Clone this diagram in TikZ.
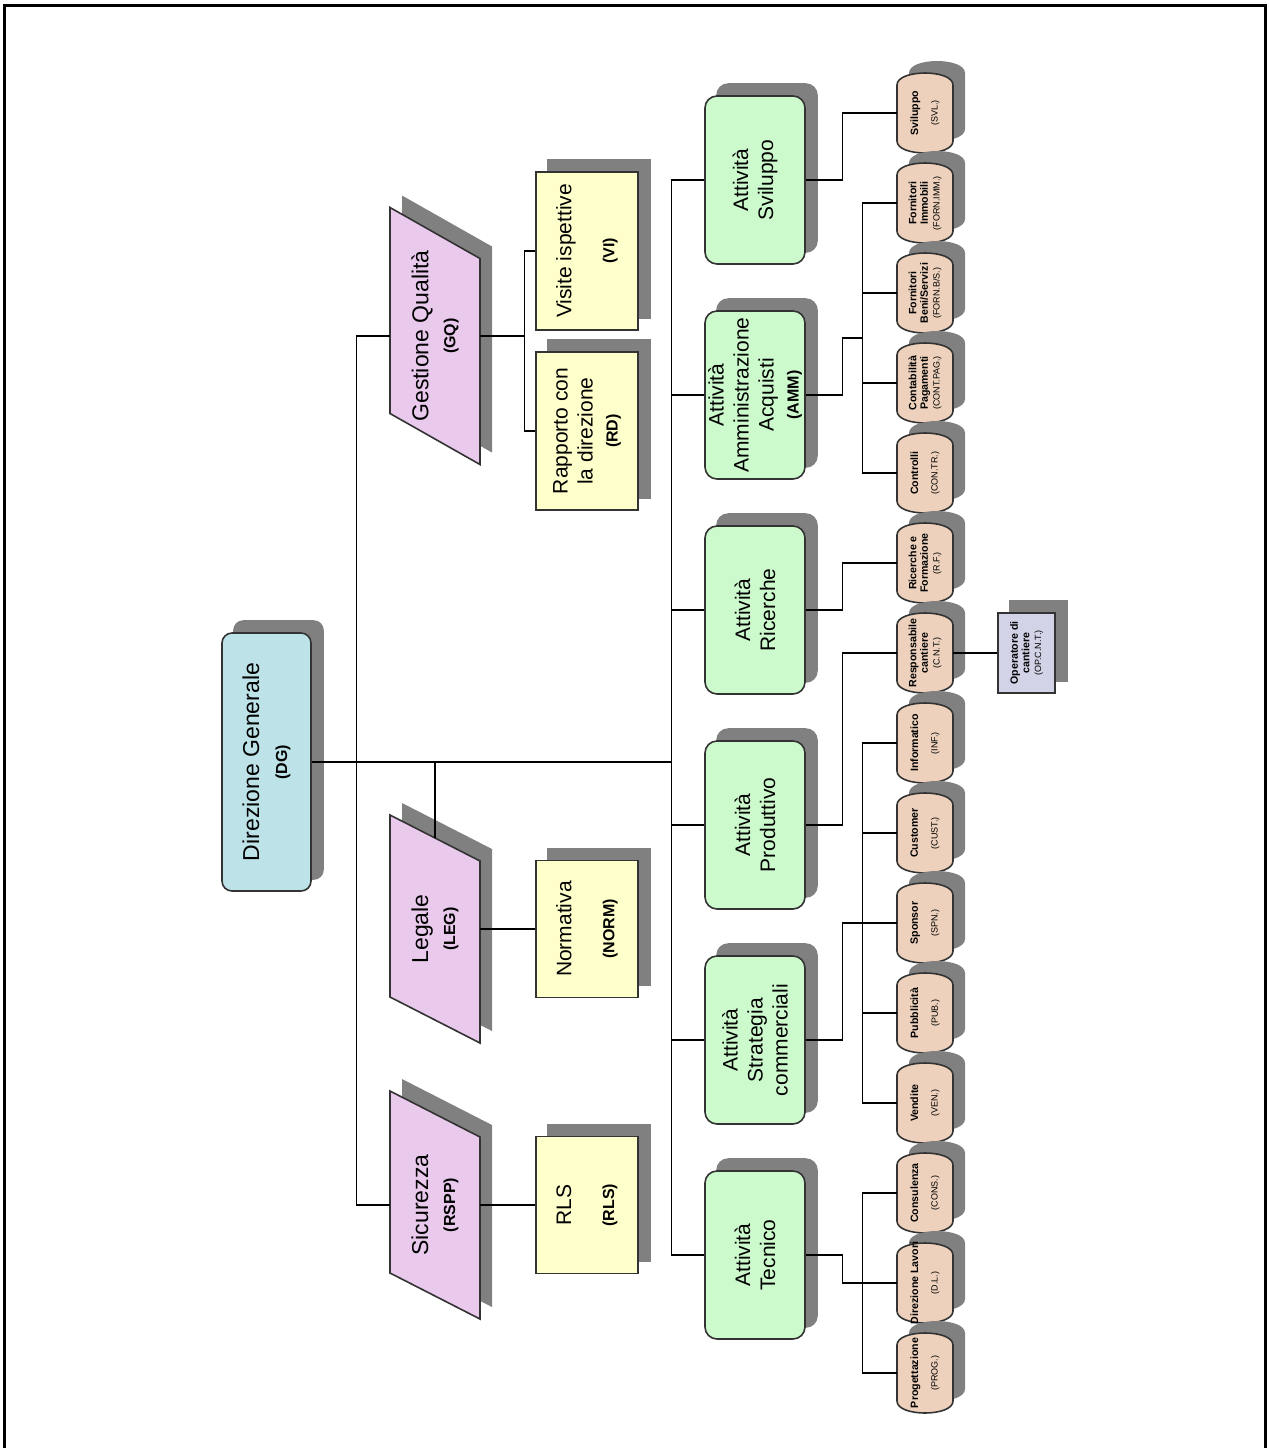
\documentclass[tikz,border=0pt]{standalone}
\usepackage{fontspec}
\setmainfont{Liberation Sans}
\usepackage{tikz}
\usetikzlibrary{calc,backgrounds}
\definecolor{dgblue}{HTML}{BDE3E8}
\definecolor{qpink}{HTML}{E9C9EC}
\definecolor{uyellow}{HTML}{FFFFCC}
\definecolor{agreen}{HTML}{CCFACC}
\definecolor{ctan}{HTML}{EDD1BC}
\definecolor{opgray}{HTML}{D3D3E8}
\definecolor{shade}{HTML}{808080}
\definecolor{edge}{HTML}{333333}
\newcommand{\ab}[1]{{\fontsize{8}{10}\selectfont\bfseries #1}}
\newcommand{\cd}[1]{{\mdseries\fontsize{4.5}{5.5}\selectfont #1}}
\tikzset{
  pics/canshape/.style={code={
    \path[pic actions] (-28,-28) .. controls (-28,-44) and (28,-44) .. (28,-28)
      -- (28,28) .. controls (28,44) and (-28,44) .. (-28,28) -- cycle;}},
  pics/pgram/.style 2 args={code={
    \path[pic actions] (-45,-#1-#2) -- (45,-#1+#2) -- (45,#1+#2) -- (-45,#1-#2) -- cycle;}}}

\begin{document}
\begin{tikzpicture}[x=0.5pt, y=-0.5pt,
  ln/.style={line width=0.6pt},
  shd/.style={fill=shade, draw=none},
  dgbox/.style={draw=edge, line width=0.8pt, fill=dgblue, rounded corners=5pt, rotate=90, minimum width=129pt, minimum height=44.5pt, align=center, inner sep=1pt, font=\fontsize{11.5}{14}\selectfont},
  pbox/.style={rotate=90, minimum height=45pt, align=center, inner sep=0pt, font=\fontsize{11.5}{13.5}\selectfont},
  ubox/.style={draw=edge, line width=0.8pt, fill=uyellow, rotate=90, minimum height=51pt, align=center, inner sep=1pt, font=\fontsize{10.5}{12.5}\selectfont},
  abox/.style={draw=edge, line width=0.8pt, fill=agreen, rounded corners=6pt, rotate=90, minimum width=84pt, minimum height=50pt, align=center, inner sep=1pt, font=\fontsize{10.5}{12.5}\selectfont},
  can/.style={rotate=90, minimum width=40pt, minimum height=28pt, align=center, inner sep=0pt, font=\fontsize{5.3}{5.8}\selectfont\bfseries},
  opbox/.style={draw=edge, line width=0.8pt, fill=opgray, rotate=90, minimum width=40pt, minimum height=28.5pt, align=center, inner sep=0pt, font=\fontsize{5.3}{5.8}\selectfont\bfseries}]
  \useasboundingbox (0,0) rectangle (1269,1448);
  \draw[line width=1.5pt] (4,1448) -- (4,5) -- (1265,5) -- (1265,1448);

  % direzione e staff
  \node[dgbox] (dg) at (266.5,762) {Direzione Generale\\\ab{(DG)}};
  \node[pbox, minimum width=103pt] (gq) at (435,336) {Gestione Qualità\\\ab{(GQ)}};
  \node[pbox, minimum width=91pt] (leg) at (435,929) {Legale\\\ab{(LEG)}};
  \node[pbox, minimum width=91pt] (rspp) at (435,1205) {Sicurezza\\\ab{(RSPP)}};
  \node[ubox, minimum width=79pt] (vi) at (587,251) {Visite ispettive\\[9pt]\ab{(VI)}};
  \node[ubox, minimum width=79pt] (rd) at (587,431) {Rapporto con\\la direzione\\\ab{(RD)}};
  \node[ubox, minimum width=68.5pt] (norm) at (587,929) {Normativa\\[9pt]\ab{(NORM)}};
  \node[ubox, minimum width=68.5pt] (rls) at (587,1205) {RLS\\[9pt]\ab{(RLS)}};

  % attivita
  \node[abox] (svil) at (755,180) {Attività\\Sviluppo};
  \node[abox] (amm) at (755,395) {Attività\\Amministrazione\\Acquisti\\\ab{(AMM)}};
  \node[abox] (ric) at (755,610) {Attività\\Ricerche};
  \node[abox] (prod) at (755,825) {Attività\\Produttivo};
  \node[abox] (strat) at (755,1040) {Attività\\Strategia\\commerciali};
  \node[abox] (tec) at (755,1255) {Attività\\Tecnico};

  % uffici
  \node[can] (svl) at (925,113) {Sviluppo\\[4pt]\cd{(SVL.)}};
  \node[can] (fimm) at (925,203) {Fornitori\\Immobili\\\cd{(FORN.IMM.)}};
  \node[can] (fbs) at (925,293) {Fornitori\\Beni/Servizi\\\cd{(FORN.B/S.)}};
  \node[can] (cpag) at (925,383) {Contabilità\\Pagamenti\\\cd{(CONT.PAG.)}};
  \node[can] (ctrl) at (925,473) {Controlli\\[4pt]\cd{(CON.TR.)}};
  \node[can] (rf) at (925,563) {Ricerche e\\Formazione\\\cd{(R.F.)}};
  \node[can] (resp) at (925,653) {Responsabile\\cantiere\\\cd{(C.N.T.)}};
  \node[can] (inf) at (925,743) {Informatico\\[4pt]\cd{(INF.)}};
  \node[can] (cust) at (925,833) {Customer\\[4pt]\cd{(CUST.)}};
  \node[can] (spon) at (925,923) {Sponsor\\[4pt]\cd{(SPN.)}};
  \node[can] (pubb) at (925,1013) {Pubblicità\\[4pt]\cd{(PUB.)}};
  \node[can] (vend) at (925,1103) {Vendite\\[4pt]\cd{(VEN.)}};
  \node[can] (cons) at (925,1193) {Consulenza\\[4pt]\cd{(CONS.)}};
  \node[can] (dl) at (925,1283) {Direzione Lavori\\[4pt]\cd{(D.L.)}};
  \node[can] (prog) at (925,1373) {Progettazione\\[4pt]\cd{(PROG.)}};
  \node[opbox] (opc) at (1026.5,653) {Operatore di\\cantiere\\\cd{(OP.C.N.T.)}};

  % ombre e forme
  \begin{scope}[on background layer]
    \fill[shd, rounded corners=5pt] ([shift={(12,-12)}]dg.south west) rectangle ([shift={(12,-12)}]dg.north east);
    \foreach \n in {vi,rd,norm,rls,opc}
      \fill[shd] ([shift={(12,-12)}]\n.south west) rectangle ([shift={(12,-12)}]\n.north east);
    \foreach \n in {svil,amm,ric,prod,strat,tec}
      \fill[shd, rounded corners=6pt] ([shift={(12,-12)}]\n.south west) rectangle ([shift={(12,-12)}]\n.north east);
    \pic[shd] at ($(gq.center)+(12,-12)$) {pgram={103}{25.5}};
    \pic[draw=edge, line width=0.8pt, fill=qpink] at (gq.center) {pgram={103}{25.5}};
    \foreach \n in {leg,rspp} {
      \pic[shd] at ($(\n.center)+(12,-12)$) {pgram={91}{23}};
      \pic[draw=edge, line width=0.8pt, fill=qpink] at (\n.center) {pgram={91}{23}};
    }
    \foreach \n in {svl,fimm,fbs,cpag,ctrl,rf,resp,inf,cust,spon,pubb,vend,cons,dl,prog} {
      \pic[shd] at ($(\n.center)+(12,-12)$) {canshape};
      \pic[draw=edge, line width=0.8pt, fill=ctan] at (\n.center) {canshape};
    }
  \end{scope}

  % collegamenti
  \draw[ln] (svil.north) -- ++(-33,0) coordinate (gb) -- (gb |- tec.north) -- (tec.north);
  \foreach \n in {amm,ric,prod,strat}
    \draw[ln] (\n.north) -- (\n.north -| gb);
  \draw[ln] (dg.south) -- (dg.south -| gb);
  \draw[ln] (gq.north) -- ++(-33,0) coordinate (pb) -- (pb |- rspp.north) -- (rspp.north);
  \draw[ln] (leg.center |- dg.south) -- ($(leg.center)+(0,-91)$);
  \draw[ln] (vi.north) -- ++(-11,0) coordinate (yb) -- (yb |- rd.north) -- (rd.north);
  \draw[ln] (gq.south) -- (gq.south -| yb);
  \draw[ln] (leg.south) -- (norm.north);
  \draw[ln] (rspp.south) -- (rls.north);

  \draw[ln] (svil.south) -- ++(37,0) |- (svl.north);
  \draw[ln] (amm.south) -- ++(37,0) |- ($(fbs.north)!0.5!(cpag.north)+(-34,0)$);
  \draw[ln] (fimm.north) -- ++(-34,0) coordinate (ab) -- (ab |- ctrl.north) -- (ctrl.north);
  \foreach \n in {fbs,cpag}
    \draw[ln] (\n.north) -- (\n.north -| ab);
  \draw[ln] (ric.south) -- ++(37,0) |- (rf.north);
  \draw[ln] (prod.south) -- ++(37,0) |- (resp.north);
  \draw[ln] (resp.south) -- (opc.north);
  \draw[ln] (strat.south) -- ++(37,0) |- ([xshift=-17pt]spon.north);
  \draw[ln] (inf.north) -- ++(-34,0) coordinate (sb) -- (sb |- vend.north) -- (vend.north);
  \foreach \n in {cust,spon,pubb}
    \draw[ln] (\n.north) -- (\n.north -| sb);
  \draw[ln] (tec.south) -- ++(37,0) |- ([xshift=-17pt]dl.north);
  \draw[ln] (cons.north) -- ++(-34,0) coordinate (tb) -- (tb |- prog.north) -- (prog.north);
  \draw[ln] (dl.north) -- (dl.north -| tb);
\end{tikzpicture}
\end{document}
